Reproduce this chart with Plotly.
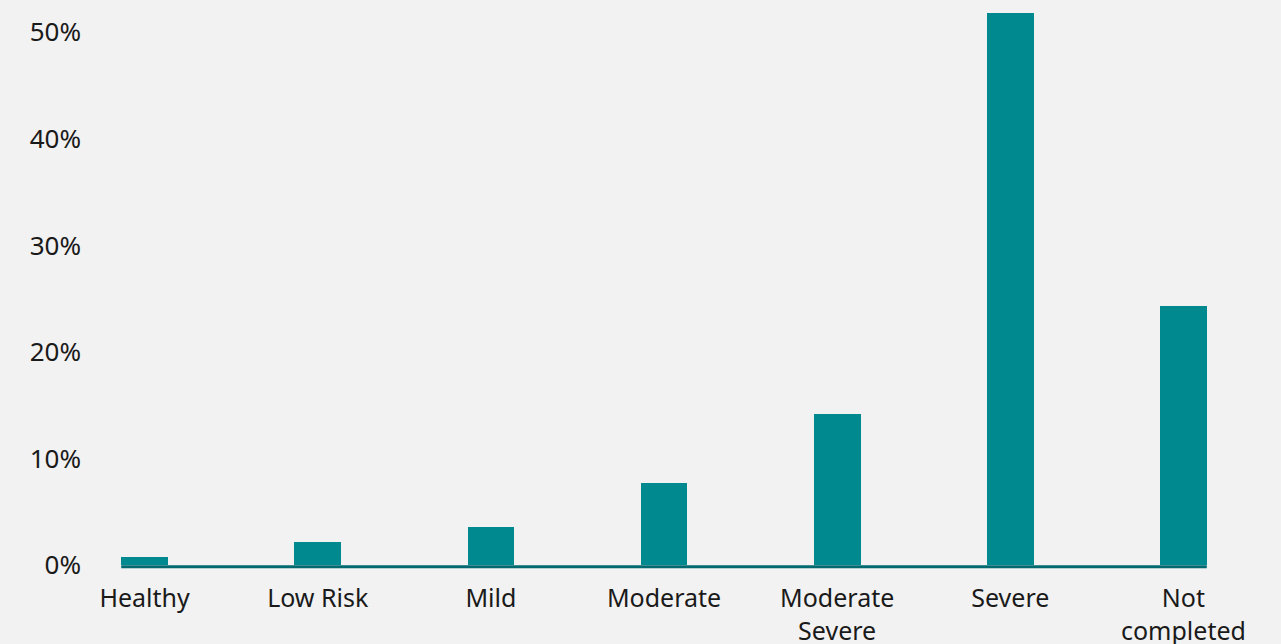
import plotly.graph_objects as go

# Share of respondents by screening result
categories = ["Healthy", "Low Risk", "Mild", "Moderate", "Moderate<br>Severe", "Severe", "Not<br>completed"]
shares = [0.8, 2.2, 3.6, 7.7, 14.2, 51.8, 24.3]
y_ticks = [0, 10, 20, 30, 40, 50]
y_tick_labels = ["0%", "10%", "20%", "30%", "40%", "50%"]

BAR_COLOR = "#008a90"
BASE_COLOR = "#006a70"
BG = "#f2f2f2"
BAR_WIDTH = 0.27

fig = go.Figure(
    go.Bar(
        x=list(range(len(categories))),
        y=shares,
        width=BAR_WIDTH,
        marker=dict(color=BAR_COLOR, line=dict(width=0)),
        hoverinfo="skip",
    )
)

# Baseline running from the first bar to the last one
fig.add_shape(
    type="rect",
    xref="x",
    yref="y",
    x0=-BAR_WIDTH / 2,
    x1=len(categories) - 1 + BAR_WIDTH / 2,
    ysizemode="pixel",
    yanchor=0,
    y0=0,
    y1=-3,
    fillcolor=BASE_COLOR,
    line=dict(width=0),
    layer="above",
)

fig.update_layout(
    width=1281,
    height=644,
    paper_bgcolor=BG,
    plot_bgcolor=BG,
    margin=dict(l=84, r=11, t=5, b=75),
    showlegend=False,
    font=dict(family="Noto Sans", size=25, color="#1a1a1a"),
    bargap=0,
)
fig.update_xaxes(
    range=[-0.35, 6.5],
    tickmode="array",
    tickvals=list(range(len(categories))),
    ticktext=categories,
    showgrid=False,
    zeroline=False,
    showline=False,
    ticks="",
    ticklabelstandoff=12,
    automargin=False,
)
fig.update_yaxes(
    range=[-0.35, 52.56],
    tickmode="array",
    tickvals=y_ticks,
    ticktext=y_tick_labels,
    tickfont=dict(size=26),
    showgrid=False,
    zeroline=False,
    showline=False,
    ticks="",
    ticklabelstandoff=2,
    automargin=False,
)

fig.write_html("out.html")
